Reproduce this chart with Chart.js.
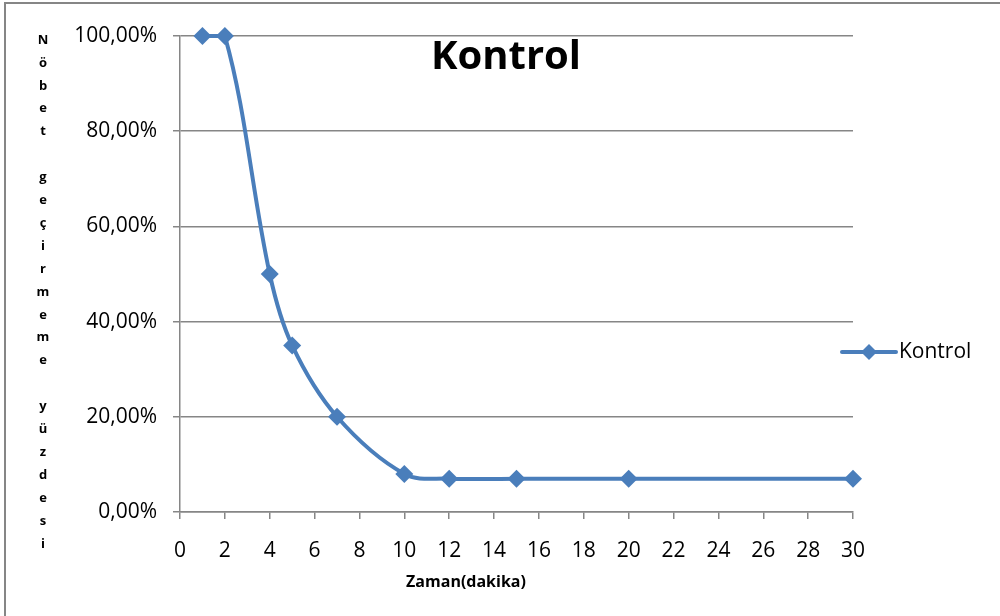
<!DOCTYPE html>
<html>
<head>
<meta charset="utf-8">
<script src="https://cdn.jsdelivr.net/npm/chart.js@4"></script>
<style>
  html, body { margin: 0; padding: 0; background: #fff; }
  #wrap { width: 1000px; height: 616px; }
</style>
</head>
<body>
<div id="wrap"><canvas id="kontrolChart" width="1000" height="616"></canvas></div>
<script>
// Kontrol - seizure-free percentage over time
const minutes = [1, 2, 4, 5, 7, 10, 12, 15, 20, 30];
const kontrol = [100, 100, 50, 35, 20, 8, 7, 7, 7, 7];
const seriesName = "Kontrol";
const chartTitle = "Kontrol";
const xTitle = "Zaman(dakika)";
const yTitle = "Nöbet geçirmeme yüzdesi";

const blue = "#4A7EBB";
const gray = "#868686";
const font = "'Open Sans', sans-serif";

const extras = {
  id: "extras",
  afterDraw(chart) {
    const ctx = chart.ctx;
    ctx.save();
    // outer frame (top and left edges visible)
    ctx.strokeStyle = gray;
    ctx.lineWidth = 2;
    ctx.beginPath();
    ctx.moveTo(5, 616);
    ctx.lineTo(5, 3);
    ctx.lineTo(1000, 3);
    ctx.stroke();

    // title inside the plot
    ctx.fillStyle = "#000";
    ctx.font = "bold 40px " + font;
    ctx.textAlign = "center";
    ctx.textBaseline = "alphabetic";
    ctx.fillText(chartTitle, 506, 69);

    // x axis title
    ctx.font = "bold 16px " + font;
    ctx.fillText(xTitle, 466, 587);

    // y axis title, one letter per line
    ctx.font = "bold 13px " + font;
    ctx.textBaseline = "middle";
    [...yTitle].forEach((ch, i) => {
      ctx.fillText(ch, 43, 40 + i * 22.9);
    });

    // legend
    const ly = 352;
    ctx.strokeStyle = blue;
    ctx.lineWidth = 4;
    ctx.lineCap = "round";
    ctx.beginPath();
    ctx.moveTo(842, ly);
    ctx.lineTo(896, ly);
    ctx.stroke();
    ctx.fillStyle = blue;
    ctx.beginPath();
    ctx.moveTo(869, ly - 8);
    ctx.lineTo(877, ly);
    ctx.lineTo(869, ly + 8);
    ctx.lineTo(861, ly);
    ctx.closePath();
    ctx.fill();
    ctx.fillStyle = "#000";
    ctx.font = "21px " + font;
    ctx.textAlign = "left";
    ctx.fillText(seriesName, 899, ly);
    ctx.restore();
  }
};

new Chart(document.getElementById("kontrolChart"), {
  type: "line",
  data: {
    datasets: [{
      label: seriesName,
      data: minutes.map((m, i) => ({ x: m, y: kontrol[i] })),
      borderColor: blue,
      backgroundColor: blue,
      borderWidth: 4,
      pointStyle: "rectRot",
      pointRadius: 9,
      pointHoverRadius: 9,
      pointBackgroundColor: blue,
      pointBorderColor: blue,
      pointBorderWidth: 0,
      tension: 0.35,
      clip: false,
      fill: false
    }]
  },
  options: {
    responsive: false,
    animation: false,
    layout: { padding: { left: 0, right: 147, top: 36, bottom: 0 } },
    plugins: {
      legend: { display: false },
      tooltip: { enabled: false }
    },
    scales: {
      x: {
        type: "linear",
        min: 0,
        max: 30,
        ticks: {
          stepSize: 2,
          padding: 19,
          color: "#000",
          font: { family: font, size: 21 },
          maxRotation: 0
        },
        grid: { drawOnChartArea: false, drawTicks: true, tickLength: 7, color: gray, lineWidth: 1.5 },
        border: { display: true, color: gray, width: 1.5 },
        afterFit(scale) { scale.height = 104; }
      },
      y: {
        min: 0,
        max: 100,
        ticks: {
          stepSize: 20,
          padding: 16,
          color: "#000",
          font: { family: font, size: 21 },
          callback: v => v.toFixed(2).replace(".", ",") + "%"
        },
        grid: { color: gray, lineWidth: 1.5, tickLength: 7 },
        border: { display: true, color: gray, width: 1.5 },
        afterFit(scale) { scale.width = 180; }
      }
    }
  },
  plugins: [extras]
});
</script>
</body>
</html>
